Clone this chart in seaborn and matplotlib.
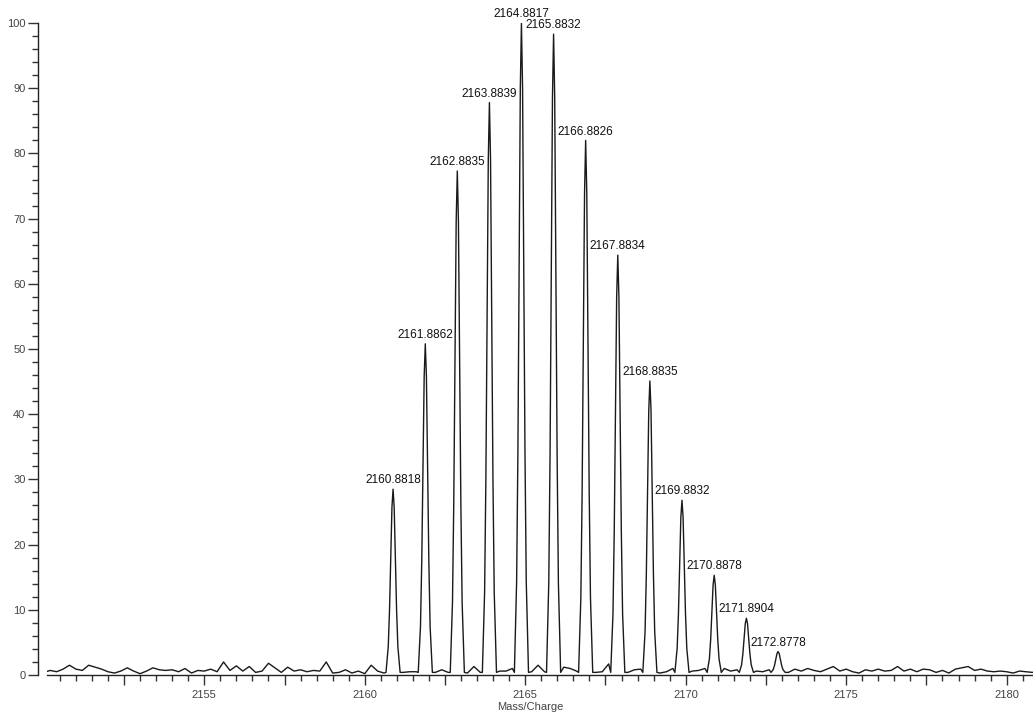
import numpy as np
import pandas as pd
import seaborn as sns
import matplotlib.pyplot as plt
from matplotlib.ticker import MultipleLocator, FuncFormatter

# isotope peaks: centre m/z, relative intensity
peak_mz = [2160.8818, 2161.8862, 2162.8835, 2163.8839, 2164.8817, 2165.8832,
           2166.8826, 2167.8834, 2168.8835, 2169.8832, 2170.8878, 2171.8904,
           2172.8778]
peak_int = [28.5, 50.8, 77.3, 87.8, 100.0, 98.3, 82.0, 64.4, 45.1, 26.8,
            15.3, 8.7, 3.6]
peak_labels = ["2160.8818", "2161.8862", "2162.8835", "2163.8839", "2164.8817",
               "2165.8832", "2166.8826", "2167.8834", "2168.8835", "2169.8832",
               "2170.8878", "2171.8904", "2172.8778"]

# baseline noise, every 0.2 from 2150.0 to 2181.0
noise_start = 2150.0
noise_step = 0.2
noise = [0.4, 0.7, 0.5, 0.9, 1.5, 0.9, 0.7, 1.5, 1.2, 0.9,
         0.5, 0.3, 0.6, 1.1, 0.6, 0.2, 0.6, 1.1, 0.8, 0.7,
         0.8, 0.5, 1.0, 0.3, 0.7, 0.6, 0.9, 0.5, 2.0, 0.7,
         1.4, 0.6, 1.3, 0.4, 0.6, 1.8, 1.1, 0.4, 1.2, 0.6,
         0.8, 0.5, 0.7, 0.6, 2.0, 0.3, 0.4, 0.8, 0.3, 0.6,
         0.2, 1.5, 0.6, 0.3, 0.5, 0.5, 0.4, 0.5, 0.5, 0.6,
         0.4, 0.4, 0.8, 0.4, 0.4, 0.4, 0.3, 1.3, 0.4, 0.4,
         0.5, 0.6, 0.6, 1.0, 0.5, 0.4, 0.5, 1.5, 0.5, 0.5,
         0.6, 1.2, 1.0, 0.6, 0.5, 0.5, 0.4, 0.5, 1.7, 0.6,
         0.4, 0.4, 0.8, 0.9, 0.5, 0.3, 0.3, 0.5, 1.0, 0.6,
         0.6, 0.6, 0.7, 1.0, 0.6, 0.4, 1.0, 0.6, 0.8, 0.6,
         0.5, 0.6, 0.5, 0.8, 0.5, 1.4, 0.4, 0.9, 0.6, 1.0,
         0.7, 0.5, 0.9, 1.3, 0.6, 0.9, 0.5, 0.3, 0.8, 0.6,
         0.9, 0.6, 0.7, 1.3, 0.6, 0.9, 0.5, 0.9, 0.8, 0.4,
         0.7, 0.3, 0.9, 1.1, 1.3, 0.7, 0.9, 0.6, 0.5, 0.6,
         0.5, 0.3, 0.6, 0.5, 0.4, 0.5]

# profile shape of a single peak (offset in m/z, fraction of apex height)
shape_dx = [-0.22, -0.15, -0.11, -0.07, -0.035, 0.0, 0.035, 0.07, 0.11, 0.15, 0.22]
shape_fr = [0.0, 0.14, 0.34, 0.65, 0.9, 1.0, 0.9, 0.65, 0.34, 0.14, 0.0]
peak_base = 0.4

noise_mz = [noise_start + i * noise_step for i in range(len(noise))]
pts = [(m, v) for m, v in zip(noise_mz, noise)
       if min(abs(m - c) for c in peak_mz) > 0.23]
for c, h in zip(peak_mz, peak_int):
    for dx, fr in zip(shape_dx, shape_fr):
        pts.append((c + dx, peak_base + (h - peak_base) * fr))
spec = pd.DataFrame(pts, columns=["mz", "intensity"]).sort_values("mz")

sns.set_style("ticks")
plt.rcParams['font.family'] = ['Liberation Sans', 'DejaVu Sans']

fig = plt.figure(figsize=(10.33, 7.13), dpi=100)
ax = fig.add_axes([0.0455, 0.0533, 0.9545, 0.9144])

sns.lineplot(data=spec, x="mz", y="intensity", ax=ax, color="#1a1a1a",
             linewidth=1.0, sort=False, estimator=None)

for c, h, lab in zip(peak_mz, peak_int, peak_labels):
    ax.annotate(lab, xy=(c, h), xytext=(0, 2), textcoords="offset points",
                ha="center", va="bottom", fontsize=8.5, color="#111111")

ax.set_xlim(2150.1, 2180.82)
ax.set_ylim(0, 100)
ax.xaxis.set_major_locator(MultipleLocator(2.5))
ax.xaxis.set_minor_locator(MultipleLocator(0.5))
ax.xaxis.set_major_formatter(FuncFormatter(
    lambda v, p: f"{v:.0f}" if abs(v / 5 - round(v / 5)) < 1e-6 else ""))
ax.yaxis.set_major_locator(MultipleLocator(10))
ax.yaxis.set_minor_locator(MultipleLocator(2))
ax.tick_params(which="major", length=7, width=1, color="#333333",
               labelsize=8, labelcolor="#444444", pad=2)
ax.tick_params(axis="x", which="major", pad=4)
ax.tick_params(which="minor", length=4, width=1, color="#333333")
for s in ["left", "bottom"]:
    ax.spines[s].set_color("#222222")
    ax.spines[s].set_linewidth(1.0)
sns.despine(ax=ax)
ax.spines["left"].set_position(("outward", 6.5))
ax.set_xlabel("Mass/Charge", fontsize=8, color="#444444")
ax.xaxis.set_label_coords(0.49, -0.041)
ax.set_ylabel("")

fig.savefig("out.png", dpi=100)
